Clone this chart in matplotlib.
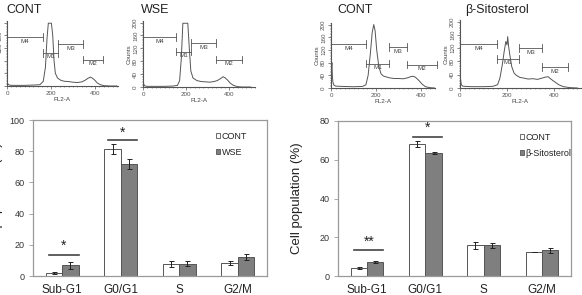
import matplotlib
matplotlib.use("Agg")
import matplotlib.pyplot as plt
from matplotlib.ticker import MultipleLocator
from matplotlib.patches import Patch

W, H = 582, 295
fig = plt.figure(figsize=(W / 100, H / 100), dpi=100)
plt.rcParams['font.family'] = ['Liberation Sans', 'DejaVu Sans']

# ---------------- data ----------------
categories = ["Sub-G1", "G0/G1", "S", "G2/M"]

wse_cont = [1.9, 81.4, 7.9, 8.6]
wse_cont_err = [0.5, 3.2, 2.0, 1.3]
wse_treat = [6.9, 71.7, 7.9, 12.2]
wse_treat_err = [2.2, 3.0, 1.5, 2.0]

sito_cont = [4.1, 68.3, 15.8, 12.4]
sito_cont_err = [0.3, 1.5, 1.7, 0.2]
sito_treat = [7.2, 63.7, 15.8, 13.3]
sito_treat_err = [0.4, 0.5, 1.2, 1.2]

# histograms (FL2-A channel, counts)
h1_fl = [0, 3, 6, 10, 20, 40, 80, 120, 150, 165, 175, 182, 188, 195, 202, 208, 214, 220, 230,
         245, 260, 280, 300, 320, 340, 355, 370, 380, 390, 400, 410, 425, 440, 470, 500]
h1_ct = [12, 8, 5, 3, 2, 2, 2, 3, 4, 15, 60, 150, 198, 198, 198, 160, 80, 40, 25,
         18, 15, 14, 12, 11, 13, 18, 25, 28, 24, 18, 10, 4, 1, 0, 0]

h2_fl = [0, 3, 6, 10, 20, 60, 100, 140, 160, 170, 178, 185, 190, 200, 208, 215, 222, 232, 250,
         270, 290, 310, 330, 345, 360, 372, 382, 392, 405, 420, 440, 460, 500]
h2_ct = [20, 10, 5, 3, 2, 2, 2, 3, 5, 20, 90, 198, 198, 198, 198, 120, 50, 28, 20,
         17, 16, 15, 17, 20, 26, 32, 28, 22, 12, 5, 1, 0, 0]

h3_fl = [0, 2, 4, 6, 8, 12, 20, 50, 100, 140, 155, 165, 175, 183, 190, 196, 203, 212, 222, 232,
         245, 260, 280, 300, 320, 340, 355, 365, 375, 390, 405, 420, 440, 460]
h3_ct = [92, 60, 80, 40, 20, 10, 6, 5, 4, 5, 10, 40, 110, 175, 200, 180, 120, 70, 45, 38,
         35, 32, 30, 30, 29, 32, 36, 37, 34, 24, 12, 4, 1, 0]

h4_fl = [0, 2, 4, 6, 10, 20, 50, 100, 140, 160, 170, 180, 188, 195, 200, 203, 207, 212, 220,
         230, 240, 255, 270, 290, 310, 330, 350, 365, 375, 385, 400, 420, 440, 470, 500]
h4_ct = [45, 30, 18, 10, 6, 5, 4, 4, 5, 10, 30, 70, 110, 140, 130, 155, 125, 100, 65,
         45, 38, 32, 30, 27, 28, 26, 30, 33, 34, 28, 20, 10, 4, 1, 0]

gate_names = ["M4", "M1", "M3", "M2"]
h1_gates = [(0, 163, 154), (163, 232, 105), (232, 345, 132), (345, 436, 83)]
h2_gates = [(0, 153, 155), (153, 223, 110), (223, 340, 136), (340, 460, 85)]
h3_gates = [(0, 155, 138), (155, 258, 77), (258, 338, 129), (338, 470, 74)]
h4_gates = [(0, 157, 132), (157, 251, 88), (251, 349, 121), (349, 460, 62)]

hist_titles = ["CONT", "WSE", "CONT", "β-Sitosterol"]


def px_rect(x0, y0, x1, y1):
    return [x0 / W, 1 - y1 / H, (x1 - x0) / W, (y1 - y0) / H]


TXT = "#222222"

# ---------------- histograms ----------------
hist_specs = [
    ((7, 21, 118, 86), 505, h1_fl, h1_ct, h1_gates, (6, 10)),
    ((143, 21, 255, 87), 520, h2_fl, h2_ct, h2_gates, (141, 10)),
    ((331, 23, 435, 88), 462, h3_fl, h3_ct, h3_gates, (337, 10)),
    ((460, 20, 581, 88), 515, h4_fl, h4_ct, h4_gates, (465, 10)),
]

for (rect, xmax, fl, ct, gates, tpos), title in zip(hist_specs, hist_titles):
    ax = fig.add_axes(px_rect(*rect))
    ax.plot(fl, ct, color="#555555", lw=0.7)
    ax.set_xlim(0, xmax)
    ax.set_ylim(0, 205)
    for s in ["top", "right"]:
        ax.spines[s].set_visible(False)
    for s in ["left", "bottom"]:
        ax.spines[s].set_color("#555555")
        ax.spines[s].set_linewidth(0.8)
    ax.set_xticks([0, 200, 400])
    ax.set_yticks([0, 40, 80, 120, 160, 200])
    ax.xaxis.set_minor_locator(MultipleLocator(20))
    ax.yaxis.set_minor_locator(MultipleLocator(5))
    ax.tick_params(axis="both", which="major", labelsize=4.5, length=2, width=0.5,
                   colors="#555555", pad=1.5)
    ax.tick_params(axis="both", which="minor", length=1, width=0.4, colors="#555555")
    for lab in ax.get_yticklabels():
        lab.set_rotation(90)
        lab.set_va("center")
    ax.set_xlabel("FL2-A", fontsize=4.5, color="#444444", labelpad=1)
    ax.set_ylabel("Counts", fontsize=4.5, color="#444444", labelpad=1)
    for name, (g0, g1, gy) in zip(gate_names, gates):
        ax.plot([g0, g1], [gy, gy], color="#555555", lw=0.6, clip_on=False)
        ax.plot([g0, g0], [gy - 12, gy + 12], color="#555555", lw=0.6, clip_on=False)
        ax.plot([g1, g1], [gy - 12, gy + 12], color="#555555", lw=0.6, clip_on=False)
        ax.text((g0 + g1) / 2, gy - 5, name, fontsize=4.5, color="#444444",
                ha="center", va="top", clip_on=False)
    fig.text(tpos[0] / W, 1 - tpos[1] / H, title, fontsize=9, color=TXT,
             ha="left", va="center")

# ---------------- bar charts ----------------
bar_specs = [
    ((33, 120, 267, 276), 100, 20, wse_cont, wse_cont_err, wse_treat, wse_treat_err, "WSE",
     [(0, 13.3, 19.5, "*"), (1, 87.2, 92.0, "*")], -0.128),
    ((338, 121, 571, 276), 80, 20, sito_cont, sito_cont_err, sito_treat, sito_treat_err,
     "β-Sitosterol", [(0, 13.3, 17.8, "**"), (1, 71.8, 76.6, "*")], -0.15),
]

x = list(range(len(categories)))
bw = 0.28
for rect, ymax, ystep, c, ce, t, te, tname, sigs, ylx in bar_specs:
    ax = fig.add_axes(px_rect(*rect))
    xc = [i - bw / 2 for i in x]
    xt = [i + bw / 2 for i in x]
    ax.bar(xc, c, bw, color="white", edgecolor="#555555", lw=0.7, label="CONT")
    ax.bar(xt, t, bw, color="#7f7f7f", edgecolor="#555555", lw=0.7, label=tname)
    ax.errorbar(xc, c, yerr=ce, fmt="none", ecolor="#222222", elinewidth=0.7,
                capsize=1.8, capthick=0.7)
    ax.errorbar(xt, t, yerr=te, fmt="none", ecolor="#222222", elinewidth=0.7,
                capsize=1.8, capthick=0.7)
    ax.set_xlim(-0.5, len(categories) - 0.5)
    ax.set_ylim(0, ymax)
    ax.set_yticks(range(0, ymax + 1, ystep))
    ax.set_xticks(x)
    ax.set_xticklabels(categories, fontsize=8.5, color=TXT)
    ax.tick_params(axis="x", length=0, pad=6)
    ax.tick_params(axis="y", labelsize=6.5, labelcolor="#333333", length=3,
                   width=0.6, color="#999999", pad=3)
    for s in ax.spines.values():
        s.set_color("#9a9a9a")
        s.set_linewidth(0.9)
    ax.set_ylabel("Cell population (%)", fontsize=9.5, color=TXT)
    ax.yaxis.set_label_coords(ylx, 0.5)
    for gi, ly, sy, star in sigs:
        ax.plot([gi - 0.22, gi + 0.28], [ly, ly], color="#444444", lw=1.2)
        ax.text(gi + 0.03, sy, star, fontsize=10, ha="center", va="center", color=TXT)
    handles = [Patch(facecolor="white", edgecolor="#555555", lw=0.6, label="CONT"),
               Patch(facecolor="#7f7f7f", edgecolor="#555555", lw=0.6, label=tname)]
    ax.legend(handles=handles, loc="upper left", bbox_to_anchor=(0.75, 0.97),
              frameon=False, fontsize=6.5, handlelength=0.5, handleheight=0.5,
              handletextpad=0.15, labelspacing=0.8, borderpad=0.3, labelcolor=TXT)

fig.savefig("out.png", dpi=100)
